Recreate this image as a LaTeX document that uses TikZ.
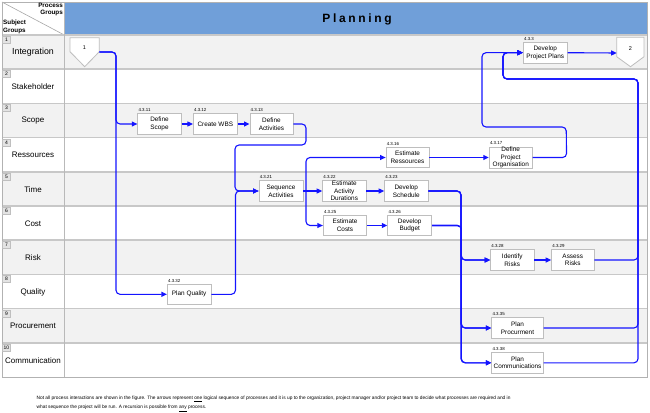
\documentclass[tikz,border=0pt]{standalone}
\usepackage{fontspec}
\setmainfont{Liberation Sans}
\usetikzlibrary{arrows.meta}
\definecolor{hdrblue}{RGB}{112,159,217}
\definecolor{rowgray}{RGB}{242,242,242}
\definecolor{linegray}{RGB}{200,200,200}
\definecolor{boxgray}{RGB}{190,190,190}
\definecolor{flowblue}{RGB}{20,20,255}
\tikzset{
  box/.style={draw=boxgray, line width=0.8pt, fill=white, minimum height=20.5pt, inner sep=0pt, align=center, font=\fontsize{6.4}{7.6}\selectfont},
  idlab/.style={anchor=base west, inner sep=0pt, font=\fontsize{4.4}{5}\selectfont},
  flow/.style={draw=flowblue, line width=1.1pt, rounded corners=4pt, -{Triangle[length=5.5pt,width=5pt]}},
  numbox/.style={anchor=north west, draw=gray!50, fill=gray!22, font=\fontsize{5}{6}\selectfont, inner sep=0.8pt, minimum width=8pt, minimum height=7pt},
  offpage/.style={draw=boxgray, line width=0.8pt, fill=white},
  rowsep/.style={draw=linegray, line width=1.5pt},
}
\newcommand\procbox[5]{%
  \node[box, minimum width=#3pt] (#1) at (#2) {#5};
  \node[idlab] (#1id) at ([xshift=1pt,yshift=1.6pt]#1.north west) {#4};
}
\begin{document}
\begin{tikzpicture}[x=1pt,y=-1pt]
\useasboundingbox (0,0) rectangle (650,412);
% row fills
\foreach \i in {0,2,4,6,8} {
  \fill[rowgray] (2,{35+34.2*\i}) rectangle (647,{69.2+34.2*\i});
}
% header
\fill[hdrblue] (64.5,2) rectangle (647,35);
\draw[gray!70, line width=0.6pt] (2,2) -- (64.3,35);
% row lines
\foreach \i in {1,...,9} {
  \draw[rowsep] (2,{35+34.2*\i}) -- (647,{35+34.2*\i});
}
\draw[rowsep] (2,35) -- (647,35);
\draw[gray!55, line width=0.8pt] (64.3,2) -- (64.3,377.2);
\draw[gray!60, line width=0.8pt] (2,2) rectangle (647,377.2);

% header texts
\node[anchor=north east, align=right, inner sep=0pt, font=\bfseries\fontsize{6.3}{7.8}\selectfont] (pg) at (63,2.6) {Process\\Groups};
\node[anchor=south west, align=left, inner sep=0pt, font=\bfseries\fontsize{6.3}{7.8}\selectfont] (sg) at (3,34) {Subject\\Groups};
\node[anchor=base, inner sep=0pt, font=\bfseries\fontsize{12}{14}\selectfont\addfontfeature{LetterSpace=22}] (title) at (357,22.5) {Planning};

% row labels
\foreach \n/\lab/\fz in {1/Integration/8.8, 2/Stakeholder/8, 3/Scope/8, 4/Ressources/8, 5/Time/8, 6/Cost/8, 7/Risk/8, 8/Quality/8, 9/Procurement/8, 10/Communication/8} {
  \pgfmathsetmacro\yt{35+34.2*(\n-1)}
  \node[font=\fontsize{\fz}{10}\selectfont] (row\n) at (33,{\yt+17.6}) {\lab};
  \node[numbox] (num\n) at (2.3,{\yt+1}) {\n};
}

% off-page connectors
\draw[offpage] (70,37.7) -- (99.3,37.7) -- (99.3,51.7) -- (84.7,66.7) -- (70,51.7) -- cycle;
\node[font=\fontsize{5.5}{6}\selectfont] (n1) at (84.5,48) {1};
\draw[offpage] (616.7,37.3) -- (644,37.3) -- (644,56.7) -- (630.5,66.7) -- (616.7,56.7) -- cycle;
\node[font=\fontsize{5.5}{6}\selectfont] (n2) at (630.5,48.5) {2};
\coordinate (n1out) at (99.3,52);
\coordinate (n2in) at (616.7,53);

% process boxes
\procbox{ds}{159.5,124}{43.5}{4.3.11}{Define\\Scope}
\procbox{wbs}{215.3,124}{44}{4.3.12}{Create WBS}
\procbox{da}{271.4,124}{43}{4.3.13}{Define\\Activities}
\procbox{er}{407.5,157.5}{43}{4.3.16}{Estimate\\Ressources}
\procbox{dpo}{510.7,157.5}{43}{4.3.17}{Define\\Project\\Organisation}
\procbox{sa}{281,191}{44}{4.3.21}{Sequence\\Activities}
\procbox{ead}{344.3,191}{43.5}{4.3.22}{Estimate\\Activity\\Durations}
\procbox{dsch}{406.3,191}{43.5}{4.3.23}{Develop\\Schedule}
\procbox{ec}{345,225.5}{43.5}{4.3.25}{Estimate\\Costs}
\procbox{db}{409.7,225.5}{44}{4.3.26}{Develop\\Budget}
\procbox{dpp}{545.3,52.7}{44}{4.3.3}{Develop\\Project Plans}
\procbox{ir}{512.3,260}{43.5}{4.3.28}{Identify\\Risks}
\procbox{ar}{572.8,260}{42.5}{4.3.29}{Assess\\Risks}
\procbox{pp}{517.5,328}{51.6}{4.3.35}{Plan\\Procurment}
\procbox{pc}{517.5,362.8}{51.6}{4.3.38}{Plan\\Communications}
\procbox{pq}{189.2,294.3}{43.7}{4.3.32}{Plan Quality}

% junctions
\coordinate (j1) at (116,52);
\coordinate (j3) at (306,191);
\coordinate (j4) at (461,191);

% connectors
\draw[flow] (n1out) -- (j1) |- (ds.west);
\draw[flow] (n1out) -- (j1) |- (pq.west);
\draw[flow] (ds.east) -- (wbs.west);
\draw[flow] (wbs.east) -- (da.west);
\draw[flow] (da.east) -- (306,124) -- (306,145) -- (235,145) |- (sa.west);
\draw[flow] (pq.east) -- ++(24,0) |- (sa.west);
\draw[flow] (sa.east) -- (ead.west);
\draw[flow] (j3) |- (er.west);
\draw[flow] (j3) |- (ec.west);
\draw[flow] (er.east) -- (dpo.west);
\draw[flow] (ead.east) -- (dsch.west);
\draw[flow] (ec.east) -- (db.west);
\draw[flow] (dpo.east) -- ++(34,0) -- (566.2,127) -- (482,127) |- (dpp.west);
\draw[flow] (dpp.east) -- (n2in);
\draw[flow] (ar.east) -| (638,79) -- (503,79) |- (dpp.west);
\draw[flow] (pp.east) -| (638,79) -- (503,79) |- (dpp.west);
\draw[flow] (pc.east) -| (638,79) -- (503,79) |- (dpp.west);
\draw[flow] (dsch.east) -- (j4) |- (ir.west);
\draw[flow] (dsch.east) -- (j4) |- (pp.west);
\draw[flow] (dsch.east) -- (j4) |- (pc.west);
\draw[flow] (db.east) -- ++(29.3,0) |- (ir.west);
\draw[flow] (db.east) -- ++(29.3,0) |- (pp.west);
\draw[flow] (db.east) -- ++(29.3,0) |- (pc.west);
\draw[flow] (ir.east) -- (ar.west);

% footnote
\node[anchor=north west, align=left, inner sep=0pt, font=\fontsize{4.8}{8.5}\selectfont] (note) at (36.5,396.3) {Not all process interactions are shown in the figure. The arrows represent \underline{one} logical sequence of processes and it is up to the organization, project manager and/or project team to decide what processes are required and in\\what sequence the project will be run. A recursion is possible from \underline{any} process.};
\end{tikzpicture}
\end{document}
